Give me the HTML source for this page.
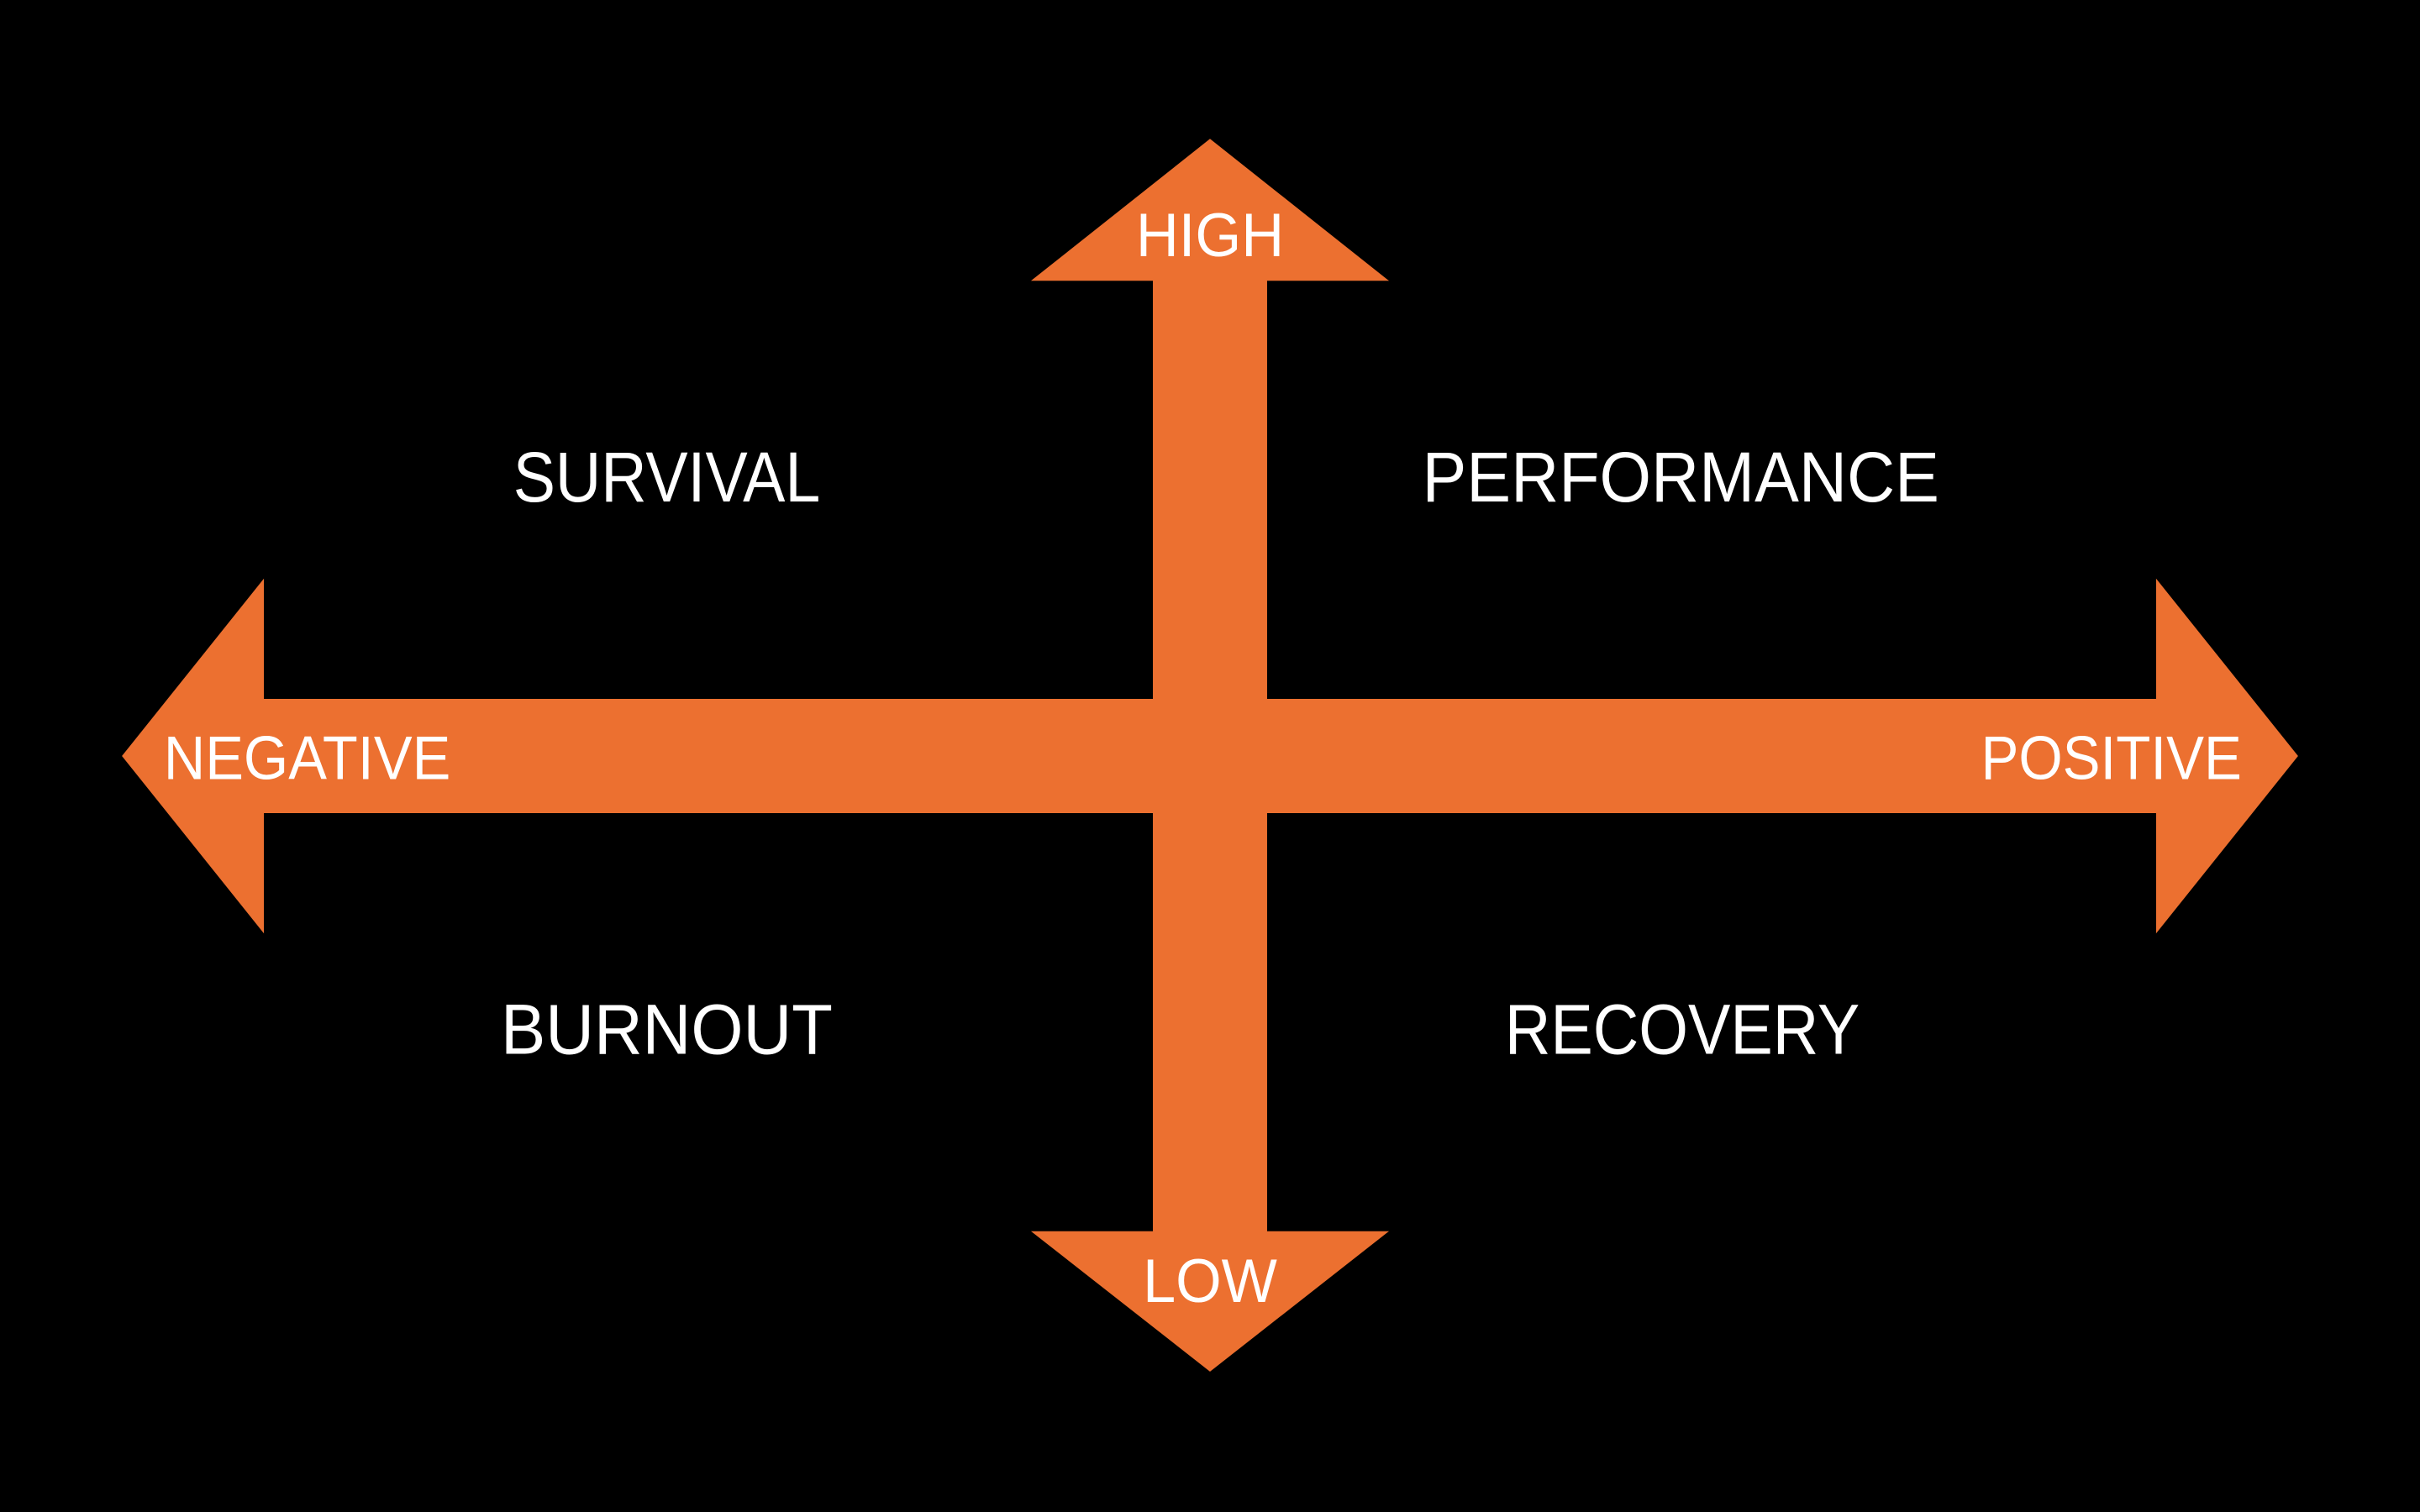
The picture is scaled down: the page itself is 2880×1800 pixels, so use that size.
<!DOCTYPE html>
<html><head><meta charset="utf-8"><style>
html,body{margin:0;padding:0;background:#000;}
svg{display:block;}
text{font-family:"Liberation Sans",sans-serif;fill:#fff;}
</style></head><body>
<svg width="2880" height="1800" viewBox="0 0 1568 980" xmlns="http://www.w3.org/2000/svg">
<rect width="1568" height="980" fill="#000"/>
<g fill="#EC7030">
<polygon points="784,90 900,182 821,182 821,453 1397,453 1397,375 1489,490 1397,605 1397,527 821,527 821,798 900,798 784,889 668,798 747,798 747,527 171,527 171,605 79,490 171,375 171,453 747,453 747,182 668,182"/>
</g>
<g font-size="46" text-anchor="middle">
<text x="432" y="325" textLength="199" lengthAdjust="spacingAndGlyphs">SURVIVAL</text>
<text x="1089" y="325" textLength="335" lengthAdjust="spacingAndGlyphs">PERFORMANCE</text>
<text x="432" y="683" textLength="215" lengthAdjust="spacingAndGlyphs">BURNOUT</text>
<text x="1090" y="683" textLength="230" lengthAdjust="spacingAndGlyphs">RECOVERY</text>
</g>
<g font-size="40" text-anchor="middle">
<text x="784" y="166" textLength="96" lengthAdjust="spacingAndGlyphs">HIGH</text>
<text x="784" y="844" textLength="87" lengthAdjust="spacingAndGlyphs">LOW</text>
<text x="199" y="505" textLength="186" lengthAdjust="spacingAndGlyphs">NEGATIVE</text>
<text x="1368" y="505" textLength="169" lengthAdjust="spacingAndGlyphs">POSITIVE</text>
</g>
</svg>
</body></html>
